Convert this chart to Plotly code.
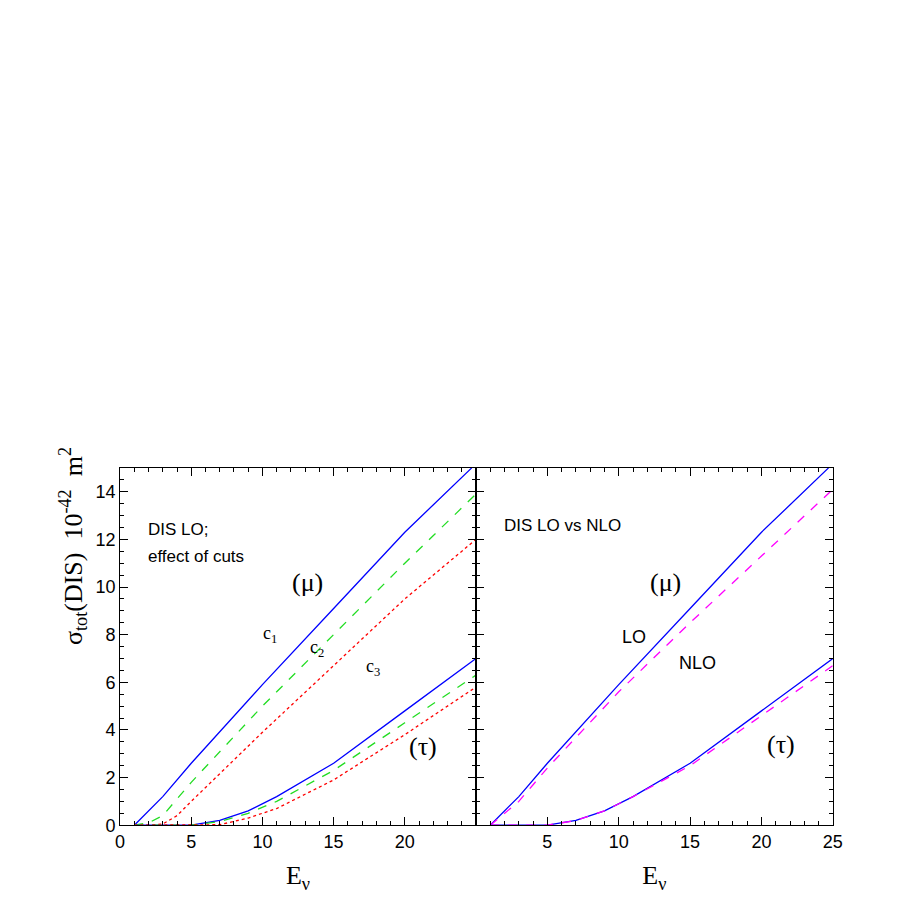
import plotly.graph_objects as go

# left panel: effect of cuts (DIS LO)
e_mu = [1, 2, 3, 5, 10, 15, 20, 24.7]
mu_c1 = [0, 0.6, 1.2, 2.6, 5.9, 9.1, 12.3, 15.0]
e_g = [1, 2, 3, 4, 5, 10, 15, 20, 25]
mu_c2 = [0, 0.1, 0.4, 1.1, 1.8, 5.0, 8.0, 11.0, 13.9]
mu_c3 = [0, 0, 0.05, 0.4, 1.0, 3.9, 6.7, 9.5, 12.0]

e_tau = [1, 3, 5, 7, 9, 11, 15, 20, 25]
tau_c1 = [0, 0, 0, 0.2, 0.6, 1.2, 2.6, 4.8, 7.0]
tau_c2 = [0, 0, 0, 0.15, 0.5, 1.0, 2.3, 4.3, 6.3]
tau_c3 = [0, 0, 0, 0.02, 0.3, 0.7, 1.9, 3.8, 5.8]

# right panel: LO vs NLO
mu_nlo = [0, 0.5, 1.0, 1.7, 2.4, 5.6, 8.5, 11.3, 14.1]
tau_nlo = [0, 0, 0, 0.2, 0.6, 1.2, 2.5, 4.6, 6.7]

fig = go.Figure()

def add(x, y, color, dash, xa, ya):
    fig.add_trace(go.Scatter(x=x, y=y, mode="lines", xaxis=xa, yaxis=ya,
                             line=dict(color=color, width=1.3, dash=dash),
                             showlegend=False, hoverinfo="skip"))

add(e_mu, mu_c1, "blue", "solid", "x", "y")
add(e_g, mu_c2, "#22dd22", "dash", "x", "y")
add(e_g, mu_c3, "red", "dot", "x", "y")
add(e_tau, tau_c1, "blue", "solid", "x", "y")
add(e_tau, tau_c2, "#22dd22", "dash", "x", "y")
add(e_tau, tau_c3, "red", "dot", "x", "y")

add(e_mu, mu_c1, "blue", "solid", "x2", "y2")
add(e_g, mu_nlo, "magenta", "dash", "x2", "y2")
add(e_tau, tau_c1, "blue", "solid", "x2", "y2")
add(e_tau, tau_nlo, "magenta", "dash", "x2", "y2")

ax = dict(range=[0, 25], showgrid=False, zeroline=False, showline=True, mirror="allticks",
          linecolor="black", linewidth=1, ticks="inside", ticklen=8, tickcolor="black",
          dtick=5, minor=dict(ticks="inside", ticklen=4, dtick=1, tickcolor="black"),
          tickfont=dict(family="Liberation Sans", size=18, color="black"), automargin=False)
ay = dict(range=[0, 15], showgrid=False, zeroline=False, showline=True, mirror="allticks",
          linecolor="black", linewidth=1, ticks="inside", ticklen=8, tickcolor="black",
          dtick=2, minor=dict(ticks="inside", ticklen=4, dtick=0.5, tickcolor="black"),
          tickfont=dict(family="Liberation Sans", size=18, color="black"), automargin=False)

xt = dict(text="E<sub>ν</sub>", font=dict(family="Liberation Serif", size=26, color="black"))
fig.update_layout(
    width=900, height=900, paper_bgcolor="white", plot_bgcolor="white",
    margin=dict(l=0, r=0, t=0, b=0),
    xaxis=dict(ax, domain=[0.1245, 0.52], tickvals=[0, 5, 10, 15, 20], title=xt),
    xaxis2=dict(ax, domain=[0.52, 0.9165], anchor="y2", tickvals=[5, 10, 15, 20, 25], title=xt),
    yaxis=dict(ay, domain=[0.092, 0.489]),
    yaxis2=dict(ay, domain=[0.092, 0.489], anchor="x2", showticklabels=False),
)

fig.add_annotation(x=0.05, y=0.29, xref="paper", yref="paper", textangle=-90, showarrow=False,
                   text="σ<sub>tot</sub>(DIS)  10<sup>-42</sup>  m<sup>2</sup>",
                   font=dict(family="Liberation Serif", size=26, color="black"))

def note(x, y, text, xa, ya, size=17, fam="Liberation Sans", xanchor="left"):
    fig.add_annotation(x=x, y=y, xref=xa, yref=ya, text=text, showarrow=False,
                       xanchor=xanchor, font=dict(family=fam, size=size, color="black"))

note(1.8, 12.4, "DIS LO;", "x", "y")
note(1.8, 11.3, "effect of cuts", "x", "y")
note(13.2, 10.2, "(μ)", "x", "y", 26, "Liberation Serif", "center")
note(10.5, 8.0, "c<sub>1</sub>", "x", "y", 18, "Liberation Serif", "center")
note(13.8, 7.4, "c<sub>2</sub>", "x", "y", 18, "Liberation Serif", "center")
note(17.8, 6.6, "c<sub>3</sub>", "x", "y", 18, "Liberation Serif", "center")
note(21.3, 3.3, "(τ)", "x", "y", 26, "Liberation Serif", "center")

note(1.8, 12.6, "DIS LO vs NLO", "x2", "y2")
note(13.3, 10.2, "(μ)", "x2", "y2", 26, "Liberation Serif", "center")
note(11.1, 7.9, "LO", "x2", "y2", 18, "Liberation Sans", "center")
note(15.5, 6.8, "NLO", "x2", "y2", 18, "Liberation Sans", "center")
note(21.4, 3.4, "(τ)", "x2", "y2", 26, "Liberation Serif", "center")

fig.write_html("out.html")
